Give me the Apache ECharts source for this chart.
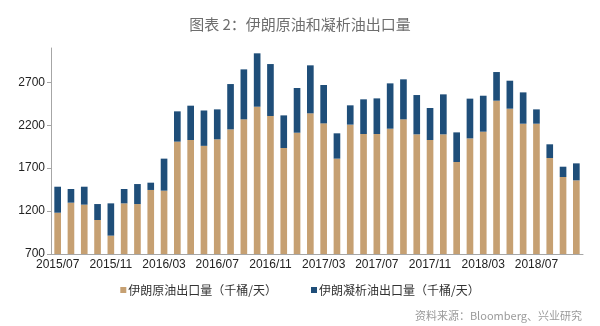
<!DOCTYPE html>
<html><head><meta charset="utf-8">
<script src="https://cdn.jsdelivr.net/npm/echarts@6/dist/echarts.min.js"></script>
<style>html,body{margin:0;padding:0;background:#fff;}#c{width:600px;height:326px;}</style>
</head><body><div id="c"></div>
<script>
const categories = [
 '2015/07','2015/08','2015/09','2015/10','2015/11','2015/12',
 '2016/01','2016/02','2016/03','2016/04','2016/05','2016/06','2016/07','2016/08','2016/09','2016/10','2016/11','2016/12',
 '2017/01','2017/02','2017/03','2017/04','2017/05','2017/06','2017/07','2017/08','2017/09','2017/10','2017/11','2017/12',
 '2018/01','2018/02','2018/03','2018/04','2018/05','2018/06','2018/07','2018/08','2018/09','2018/10'];
const crudeOil = [
 1181,1298,1275,1096,914,1290,
 1282,1446,1438,2009,2028,1960,2036,2152,2269,2416,2308,1935,
 2113,2339,2222,1811,2207,2098,2098,2160,2269,2094,2028,2094,
 1772,2047,2125,2486,2393,2218,2218,1818,1597,1558];
const totalExport = [
 1484,1457,1484,1282,1290,1457,
 1515,1531,1811,2362,2428,2372,2385,2680,2851,3038,2913,2315,
 2634,2898,2669,2106,2432,2502,2513,2688,2735,2552,2401,2560,
 2117,2510,2544,2820,2719,2583,2385,1978,1717,1756];
const condensate = totalExport.map((t, i) => t - crudeOil[i]);
const seriesNames = ['伊朗原油出口量（千桶/天）', '伊朗凝析油出口量（千桶/天）'];
const titleText = '图表 2：伊朗原油和凝析油出口量';
const sourceText = '资料来源：Bloomberg、兴业研究';

const chart = echarts.init(document.getElementById('c'));
chart.setOption({
  animation: false,
  textStyle: { fontFamily: 'Liberation Sans, Noto Sans CJK SC, sans-serif' },
  title: [{
    text: titleText, left: 'center', top: 12,
    textStyle: { fontSize: 15, fontWeight: 'normal', color: '#6e6e6e', fontFamily: 'Noto Sans CJK SC' }
  }, {
    text: sourceText, right: 13, top: 305,
    textStyle: { fontSize: 11, fontWeight: 'normal', color: '#9a9a9a', fontFamily: 'Noto Sans CJK SC' }
  }],
  legend: {
    top: 279, left: 'center', itemWidth: 6, itemHeight: 6, itemGap: 34,
    icon: 'rect',
    textStyle: { fontSize: 12, color: '#333', fontFamily: 'Noto Sans CJK SC', padding: [0,0,0,-3] },
    data: seriesNames
  },
  grid: { left: 51, right: 17, top: 48, bottom: 72 },
  xAxis: {
    type: 'category', data: categories,
    axisLine: { lineStyle: { color: '#a6a6a6' } },
    axisTick: { interval: 3, length: 4, lineStyle: { color: '#a6a6a6' } },
    axisLabel: { interval: 3, fontSize: 12, color: '#222', margin: 5 }
  },
  yAxis: {
    type: 'value', min: 700, max: 3100, interval: 500,
    splitLine: { show: false },
    axisLine: { show: true, lineStyle: { color: '#a6a6a6' } },
    axisTick: { show: true, length: 4, lineStyle: { color: '#a6a6a6' } },
    axisLabel: { fontSize: 12, color: '#222', margin: 6, showMaxLabel: false, formatter: v => String(v) }
  },
  series: [{
    name: seriesNames[0], type: 'bar', stack: 'a', data: crudeOil,
    barCategoryGap: '50%', itemStyle: { color: '#C6A072' }
  }, {
    name: seriesNames[1], type: 'bar', stack: 'a', data: condensate,
    itemStyle: { color: '#1F4E79' }
  }]
});
</script></body></html>
